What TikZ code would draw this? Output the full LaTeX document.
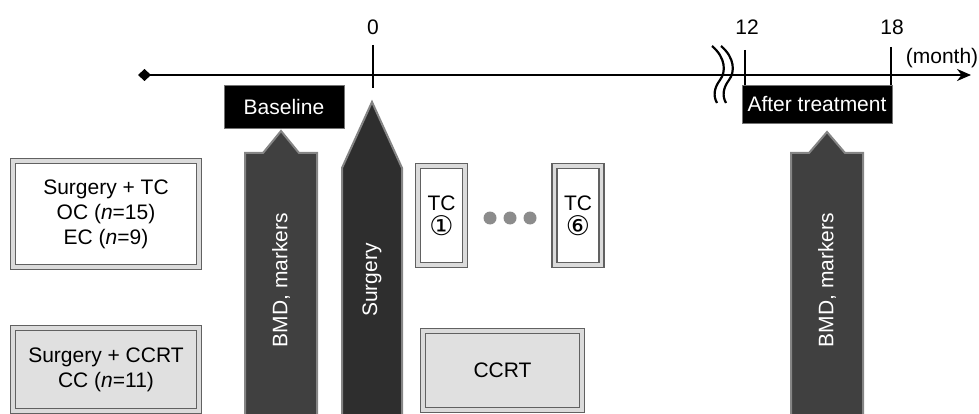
\documentclass[tikz,border=0pt]{standalone}
\usepackage{fontspec}
\setmainfont{Liberation Sans}
\newfontfamily\circfont{DejaVu Sans}
\usetikzlibrary{arrows.meta}

\tikzset{
  bevelBox/.style={rectangle, draw=black!62, double=black!14, double distance=3.2pt, line width=1.5pt, inner sep=0pt, align=center},
  darkLabel/.style={rectangle, fill=black, draw=black!55, line width=0.8pt, text=white, inner sep=0pt},
  vertLabel/.style={rotate=90, text=white, inner sep=0pt},
  tickLabel/.style={inner sep=0pt},
  tickLine/.style={line width=2.6pt},
  dotMark/.style={circle, fill=black!45, minimum size=13pt, inner sep=0pt},
  arrowBody/.style={fill=black!75, draw=black!48, line width=2pt, line join=miter},
  breakLine/.style={line width=2.2pt}
}
\newcommand{\circnum}[1]{{\circfont\fontsize{27}{25}\selectfont #1}}

\begin{document}
\begin{tikzpicture}[x=1pt, y=-1pt, font=\fontsize{21}{25}\selectfont]
    \useasboundingbox (0,0) rectangle (979,414);

        % Time axis
        \coordinate (axisStart) at (138,75);
        \coordinate (axisEnd) at (971,75);
        \draw[tickLine, {Diamond[length=13pt,width=12pt]}-{Stealth[length=14pt,width=12pt]}] (axisStart) -- (axisEnd);
        \coordinate (zeroTop) at (373,45);
        \coordinate (zeroBot) at (373,88);
        \coordinate (twelveTop) at (745,50);
        \coordinate (twelveBot) at (745,86);
        \coordinate (eighteenTop) at (891,47);
        \coordinate (eighteenBot) at (891,86);
        \draw[tickLine] (zeroTop) -- (zeroBot);
        \draw[tickLine] (twelveTop) -- (twelveBot);
        \draw[tickLine] (eighteenTop) -- (eighteenBot);
        \node[tickLabel](zeroLbl) at (373,27){0};
        \node[tickLabel](twelveLbl) at (747,27){12};
        \node[tickLabel](eighteenLbl) at (892,27){18};
        \node[tickLabel](monthLbl) at (942,58){(month)};
        % Axis break
        \draw[breakLine] (712,46) .. controls (726,58) and (726,72) .. (720,80) .. controls (714,88) and (713,96) .. (717,103);
        \draw[breakLine] (721,46) .. controls (735,58) and (735,72) .. (729,80) .. controls (723,88) and (722,96) .. (726,103);

        % Period labels
        \node[darkLabel, minimum width=120pt, minimum height=43pt](baseline) at (284,106.5){Baseline};
        \node[darkLabel, minimum width=150pt, minimum height=38pt](afterTreat) at (817,104){After treatment};

        % Arrows
        \draw[arrowBody] (245,416) -- (245,153) -- (263,153) -- (281,131) -- (299,153) -- (317,153) -- (317,416) -- cycle;
        \draw[arrowBody, fill=black!82] (342,416) -- (342,168) -- (372,102) -- (402,168) -- (402,416) -- cycle;
        \draw[arrowBody] (791,416) -- (791,153) -- (809,153) -- (827,132) -- (845,153) -- (863,153) -- (863,416) -- cycle;
        \node[vertLabel](bmdBefore) at (281,280){BMD, markers};
        \node[vertLabel](surgery) at (372,280){Surgery};
        \node[vertLabel](bmdAfter) at (827,280){BMD, markers};

        % Groups
        \node[bevelBox, fill=white, minimum width=186pt, minimum height=106pt](tcGroup) at (106,214){Surgery + TC\\OC (\textit{n}=15)\\EC (\textit{n}=9)};
        \node[bevelBox, fill=black!12, minimum width=186pt, minimum height=83pt](ccrtGroup) at (106,369.5){Surgery + CCRT\\CC (\textit{n}=11)};

        % Treatments
        \node[bevelBox, fill=white, minimum width=47pt, minimum height=99pt](tcFirst) at (441.5,215.5){TC\\\circnum{①}};
        \node[bevelBox, fill=white, minimum width=47pt, minimum height=99pt](tcSixth) at (578,215.5){TC\\\circnum{⑥}};
        \foreach \i/\x in {1/490,2/510,3/530}
            \node[dotMark](dot\i) at (\x,218){};
        \node[bevelBox, fill=black!12, minimum width=159pt, minimum height=79pt](ccrt) at (502.5,370.5){CCRT};

    \end{tikzpicture}
\end{document}
